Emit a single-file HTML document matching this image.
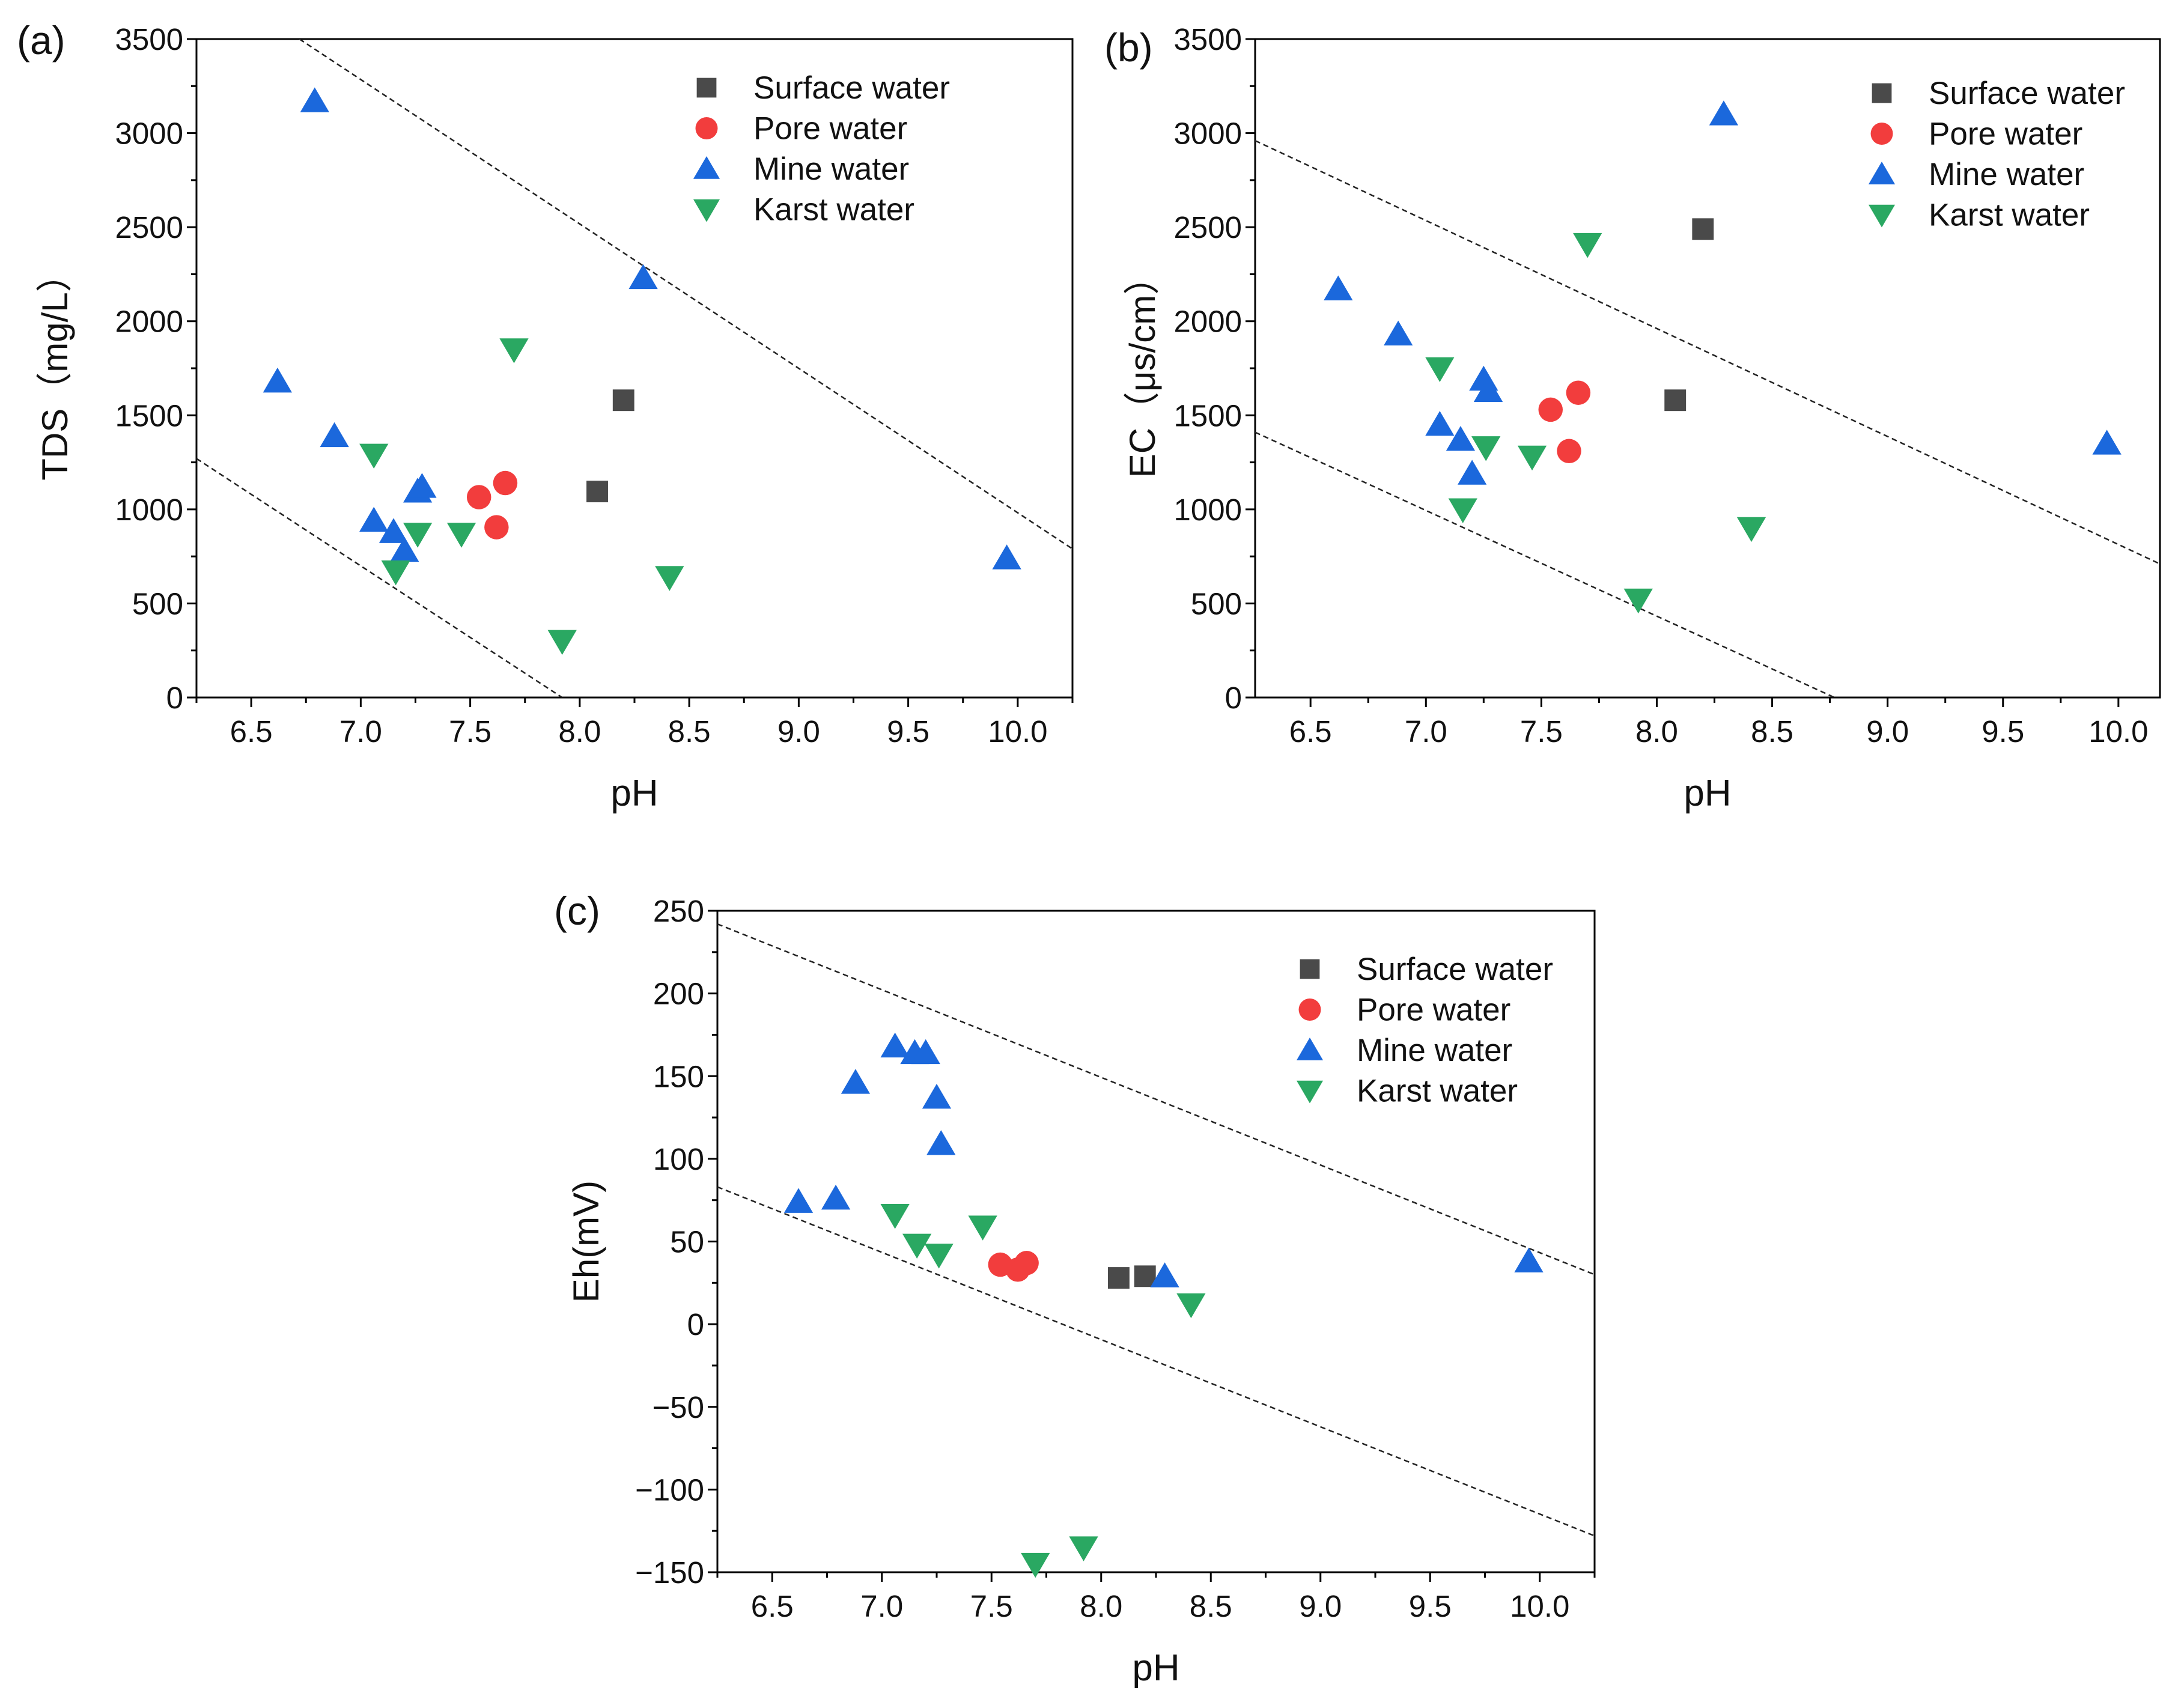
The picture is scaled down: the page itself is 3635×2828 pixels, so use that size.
<!DOCTYPE html>
<html><head><meta charset="utf-8"><style>
html,body{margin:0;padding:0;background:#fff}
svg{display:block;font-family:"Liberation Sans","Noto Sans CJK SC",sans-serif}
</style></head><body>
<svg id="fig" width="3635" height="2828" viewBox="0 0 3635 2828" xmlns="http://www.w3.org/2000/svg"></svg>
<script>
const seriesNames = ["Surface water","Pore water","Mine water","Karst water"];
const seriesColors = ["#4a4a4a","#f23d3d","#1b68dc","#2aa862"];
const seriesShapes = ["square","circle","up","down"];
const xTicks = [6.5,7.0,7.5,8.0,8.5,9.0,9.5,10.0];

const aSurface = [[8.08,1095],[8.2,1580]];
const aPore = [[7.54,1065],[7.62,905],[7.66,1140]];
const aMine = [[6.62,1680],[6.79,3170],[6.88,1390],[7.06,940],[7.15,880],[7.2,780],[7.26,1095],[7.28,1120],[8.29,2230],[9.95,740]];
const aKarst = [[7.06,1290],[7.16,670],[7.26,870],[7.46,870],[7.7,1850],[7.92,300],[8.41,640]];
const aLines = [[[6.72,3500],[10.25,790]],[[6.25,1270],[7.92,0]]];
const aYTicks = [0,500,1000,1500,2000,2500,3000,3500];

const bSurface = [[8.08,1580],[8.2,2490]];
const bPore = [[7.54,1530],[7.62,1310],[7.66,1620]];
const bMine = [[6.62,2170],[6.88,1930],[7.06,1450],[7.15,1370],[7.2,1190],[7.25,1690],[7.27,1630],[8.29,3100],[9.95,1350]];
const bKarst = [[7.06,1750],[7.16,1000],[7.26,1330],[7.46,1280],[7.7,2410],[7.92,520],[8.41,900]];
const bLines = [[[6.26,2960],[10.18,710]],[[6.26,1410],[8.77,0]]];
const bYTicks = [0,500,1000,1500,2000,2500,3000,3500];

const cSurface = [[8.08,28],[8.2,29]];
const cPore = [[7.54,36],[7.62,33],[7.66,37]];
const cMine = [[6.62,74],[6.79,76],[6.88,146],[7.06,168],[7.15,164],[7.2,164],[7.25,137],[7.27,109],[8.29,29],[9.95,38]];
const cKarst = [[7.06,66],[7.16,48],[7.26,42],[7.46,59],[7.7,-145],[7.92,-135],[8.41,12]];
const cLines = [[[6.25,242],[10.25,30]],[[6.25,83],[10.25,-128]]];
const cYTicks = [-150,-100,-50,0,50,100,150,200,250];

const NS="http://www.w3.org/2000/svg";
const svg=document.getElementById('fig');
function mk(tag,attrs,parent,text){const e=document.createElementNS(NS,tag);for(const k in attrs)e.setAttribute(k,attrs[k]);if(text!==undefined)e.textContent=text;(parent||svg).appendChild(e);return e;}
function fmtY(v){return v<0?'\u2212'+Math.abs(v):String(v);}

function marker(g,shape,cx,cy,color,r){
  let e;
  if(shape==='square') e=mk('rect',{x:cx-r*0.78,y:cy-r*0.78,width:r*1.56,height:r*1.56,fill:color},g);
  else if(shape==='circle') e=mk('circle',{cx:cx,cy:cy,r:r*0.88,fill:color},g);
  else if(shape==='up') e=mk('polygon',{points:`${cx},${cy-r} ${cx-r*1.05},${cy+r*0.8} ${cx+r*1.05},${cy+r*0.8}`,fill:color},g);
  else e=mk('polygon',{points:`${cx},${cy+r} ${cx-r*1.05},${cy-r*0.8} ${cx+r*1.05},${cy-r*0.8}`,fill:color},g);
  return e;
}

function panel(cfg){
  const g=mk('g',{});
  
  
  const {L,R,T,B,ymin,ymax,xmin,xmax}=cfg;
  const sx=v=>L+(v-xmin)/(xmax-xmin)*(R-L);
  const sy=v=>B-(v-ymin)/(ymax-ymin)*(B-T);
  const frame=mk('rect',{x:L,y:T,width:R-L,height:B-T,fill:'none',stroke:'#000','stroke-width':3},g);
  
  
  for(let v=6.25;v<=xmax+1e-6;v+=0.25){
    if(v<xmin-1e-6) continue;
    const major=Math.abs(v*2-Math.round(v*2))<1e-6;
    mk('line',{x1:sx(v),x2:sx(v),y1:B,y2:B+(major?16:9),stroke:'#000','stroke-width':3},g);
  }
  xTicks.forEach(v=>{
    const t=mk('text',{x:sx(v),y:B+74,'font-size':51,'text-anchor':'middle',fill:'#111'},g,v.toFixed(1));
    
    
  });
  const yt=cfg.yticks;const step=yt[1]-yt[0];
  for(let i=0;i<yt.length;i++){
    mk('line',{x1:L-16,x2:L,y1:sy(yt[i]),y2:sy(yt[i]),stroke:'#000','stroke-width':3},g);
    if(i<yt.length-1){const m=yt[i]+step/2;mk('line',{x1:L-9,x2:L,y1:sy(m),y2:sy(m),stroke:'#000','stroke-width':3},g);}
    const t=mk('text',{x:L-22,y:sy(yt[i])+18,'font-size':51,'text-anchor':'end',fill:'#111'},g,fmtY(yt[i]));
    
    
  }
  const xt=mk('text',{x:(L+R)/2,y:B+180,'font-size':62,'text-anchor':'middle',fill:'#111'},g,'pH');
  
  
  const yx=cfg.ytitleX, yy=(T+B)/2;
  const ytl=mk('text',{x:yx,y:yy,'font-size':60,'text-anchor':'middle',fill:'#111',transform:`rotate(-90 ${yx} ${yy})`},g,cfg.ytitle);
  
  
  const pl=mk('text',{x:cfg.labelX,y:cfg.labelY,'font-size':66,fill:'#111'},g,cfg.label);
  
  
  const clip='clip-'+cfg.name;
  const cp=mk('clipPath',{id:clip},g);mk('rect',{x:L,y:T,width:R-L,height:B-T},cp);
  cfg.lines.forEach(ln=>{
    const l=mk('line',{x1:sx(ln[0][0]),y1:sy(ln[0][1]),x2:sx(ln[1][0]),y2:sy(ln[1][1]),stroke:'#222','stroke-width':2.5,'stroke-dasharray':'9 6','clip-path':`url(#${clip})`},g);
    
    
  });
  cfg.series.forEach((pts,si)=>{
    pts.forEach(p=>{
      const m=marker(g,seriesShapes[si],sx(p[0]),sy(p[1]),seriesColors[si],23);
      
      
    });
  });
  seriesNames.forEach((n,i)=>{
    const y=cfg.legY+i*67.5;
    const m=marker(g,seriesShapes[i],cfg.legX,y,seriesColors[i],21);
    
    
    const t=mk('text',{x:cfg.legX+78,y:y+18,'font-size':53,fill:'#111'},g,n);
    
    
  });
}

panel({name:'panel-a',L:327,R:1785,T:65,B:1161,xmin:6.25,xmax:10.25,ymin:0,ymax:3500,yticks:aYTicks,ytitle:'TDS（mg/L）',ytitleX:112,label:'(a)',labelX:28,labelY:90,
  series:[aSurface,aPore,aMine,aKarst],lines:aLines,legX:1176,legY:146});
panel({name:'panel-b',L:2089,R:3595,T:65,B:1161,xmin:6.26,xmax:10.18,ymin:0,ymax:3500,yticks:bYTicks,ytitle:'EC（μs/cm）',ytitleX:1922,label:'(b)',labelX:1838,labelY:102,
  series:[bSurface,bPore,bMine,bKarst],lines:bLines,legX:3132,legY:155});
panel({name:'panel-c',L:1194,R:2654,T:1516,B:2617,xmin:6.25,xmax:10.25,ymin:-150,ymax:250,yticks:cYTicks,ytitle:'Eh(mV)',ytitleX:996,label:'(c)',labelX:922,labelY:1539,
  series:[cSurface,cPore,cMine,cKarst],lines:cLines,legX:2180,legY:1613});
</script>
</body></html>
